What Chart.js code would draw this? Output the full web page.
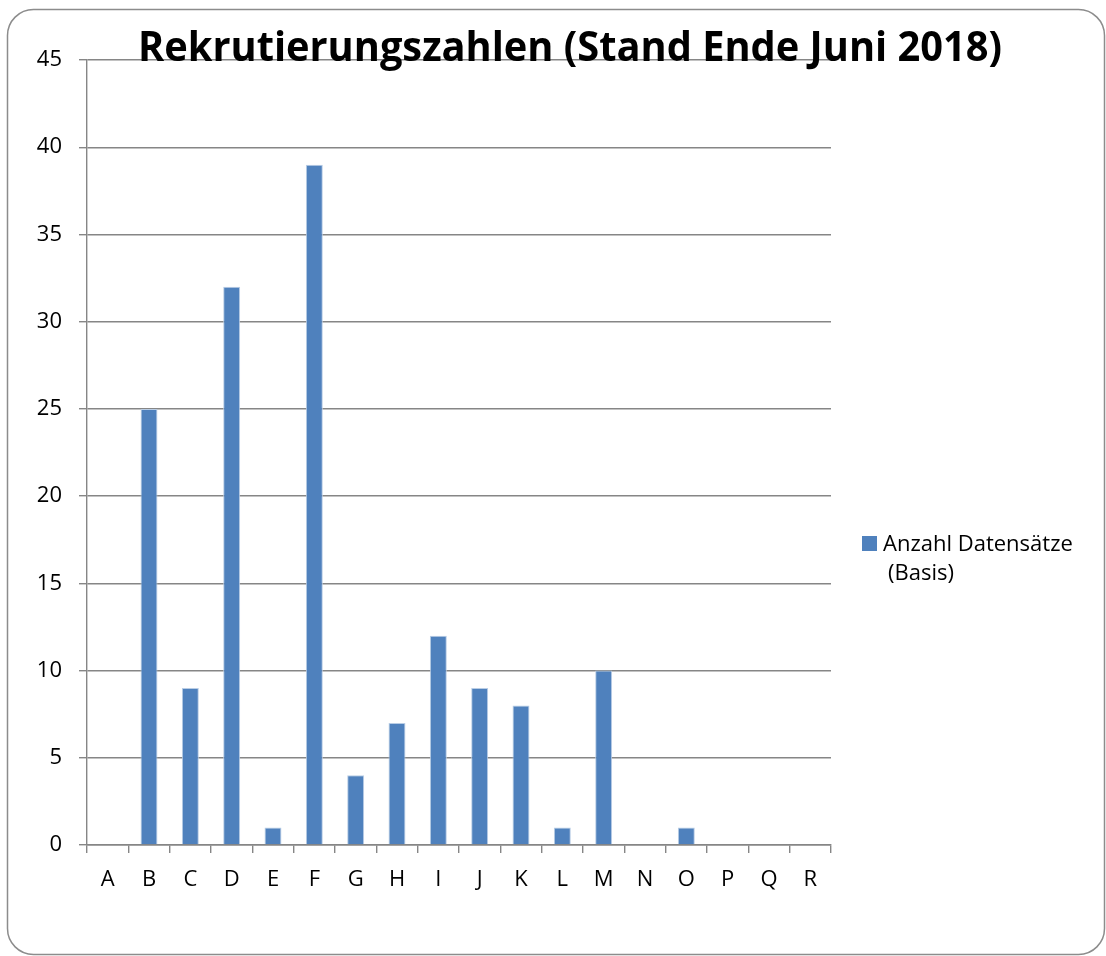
<!DOCTYPE html>
<html>
<head>
<meta charset="utf-8">
<script src="https://cdn.jsdelivr.net/npm/chart.js@4.4.1/dist/chart.umd.min.js"></script>
<style>
    html, body { margin: 0; padding: 0; background: #fff; }
    #wrap { width: 1106px; height: 956px; position: relative; }
</style>
</head>
<body>
<div id="wrap"><canvas id="recruitChart"></canvas></div>
<script>
// Rekrutierungszahlen - data
const categories = ['A', 'B', 'C', 'D', 'E', 'F', 'G', 'H', 'I', 'J', 'K', 'L', 'M', 'N', 'O', 'P', 'Q', 'R'];
const recordCounts = [0, 25, 9, 32, 1, 39, 4, 7, 12, 9, 8, 1, 10, 0, 1, 0, 0, 0];
const yTicks = [0, 5, 10, 15, 20, 25, 30, 35, 40, 45];
const chartTitle = 'Rekrutierungszahlen (Stand Ende Juni 2018)';
const legendLines = ['Anzahl Datensätze', '(Basis)'];

const FONT = '"Open Sans", Lato, sans-serif';
const BAR_COLOR = '#4F81BD';
const GRID_COLOR = '#868686';

// outer frame, title and legend in the office-chart style
const decorPlugin = {
    id: 'decor',
    beforeDraw(chart) {
        const ctx = chart.ctx;
        ctx.save();
        ctx.strokeStyle = '#8c8c8c';
        ctx.lineWidth = 1.5;
        ctx.beginPath();
        ctx.roundRect(7.5, 9.5, 1097, 945, 26);
        ctx.stroke();
        ctx.restore();
    },
    afterDraw(chart) {
        const ctx = chart.ctx;
        ctx.save();
        ctx.fillStyle = '#000';
        ctx.textAlign = 'center';
        ctx.textBaseline = 'alphabetic';
        ctx.font = 'bold 41px ' + FONT;
        // squeeze to the width of the original title
        const w = ctx.measureText(chartTitle).width;
        const target = 864;
        ctx.translate(570, 61);
        ctx.scale(target / w, 1);
        ctx.fillText(chartTitle, 0, 0);
        ctx.restore();

        ctx.save();
        ctx.fillStyle = BAR_COLOR;
        ctx.fillRect(862, 536, 15, 15);
        ctx.fillStyle = '#000';
        ctx.font = '22px ' + FONT;
        ctx.textAlign = 'left';
        ctx.textBaseline = 'alphabetic';
        ctx.fillText(legendLines[0], 883, 551);
        ctx.fillText(legendLines[1], 888, 580);
        ctx.restore();
    }
};

const ctx = document.getElementById('recruitChart').getContext('2d');
new Chart(ctx, {
    type: 'bar',
    data: {
        labels: categories,
        datasets: [{
            label: legendLines.join(' '),
            data: recordCounts,
            backgroundColor: BAR_COLOR,
            borderColor: '#B9CDE5',
            borderWidth: 1,
            categoryPercentage: 1,
            barPercentage: 0.41
        }]
    },
    options: {
        responsive: true,
        maintainAspectRatio: false,
        animation: false,
        layout: { padding: { top: 60, right: 275, left: 0, bottom: 0 } },
        plugins: {
            legend: { display: false },
            title: { display: false },
            tooltip: { enabled: false }
        },
        scales: {
            y: {
                min: 0,
                max: 45,
                afterBuildTicks: (scale) => { scale.ticks = yTicks.map(v => ({ value: v })); },
                afterFit: (scale) => { scale.width = 87; },
                grid: { color: GRID_COLOR, lineWidth: 1.4, tickLength: 8 },
                border: { color: GRID_COLOR, width: 1.4 },
                ticks: { color: '#000', font: { family: FONT, size: 22 }, padding: 17 }
            },
            x: {
                afterFit: (scale) => { scale.height = 111; },
                grid: { drawOnChartArea: false, color: GRID_COLOR, lineWidth: 1.4, tickLength: 8, offset: true },
                border: { color: GRID_COLOR, width: 1.4 },
                ticks: { color: '#000', font: { family: FONT, size: 22 }, padding: 14, maxRotation: 0 }
            }
        }
    },
    plugins: [decorPlugin]
});
</script>
</body>
</html>
